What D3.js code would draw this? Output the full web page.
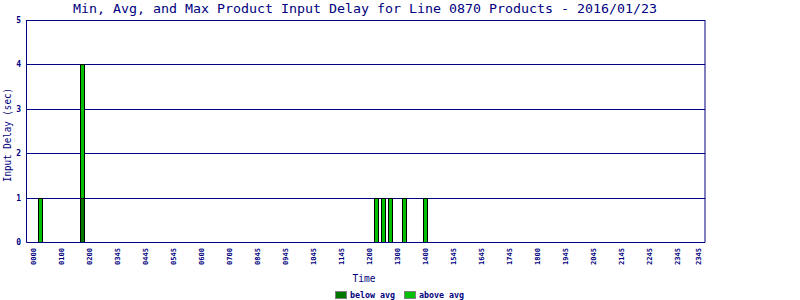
<!DOCTYPE html>
<html>
<head>
<meta charset="utf-8">
<title>Input Delay</title>
<script src="https://d3js.org/d3.v7.min.js"></script>
<style>
  body { margin: 0; background: #fff; }
  svg { display: block; }
  text { font-family: "DejaVu Sans Mono", monospace; fill: #000080; }
</style>
</head>
<body>
<svg width="800" height="300"></svg>
<script>
// bar data: quarter-hour slot, below-avg part, above-avg part
const barTimes  = ["0015", "0145", "1215", "1230", "1245", "1315", "1400"];
const belowAvg  = [0, 1, 0, 0, 0, 0, 0];
const aboveAvg  = [1, 3, 1, 1, 1, 1, 1];

// x tick labels as printed, and the slot each sits on
const tickLabels = ["0000","0100","0200","0345","0445","0545","0600","0700","0845","0945","1045","1145",
                    "1200","1300","1400","1545","1645","1745","1800","1945","2045","2145","2245","2345","2345"];
const tickSlots  = ["0000","0100","0200","0300","0400","0500","0600","0700","0800","0900","1000","1100",
                    "1200","1300","1400","1500","1600","1700","1800","1900","2000","2100","2200","2300","2345"];

const yTicks = [0, 1, 2, 3, 4, 5];
const keys = ["below avg", "above avg"];
const colors = ["#007800", "#00c000"];

// 96 quarter-hour slots across the day
const slots = [];
for (let h = 0; h < 24; h++) {
  for (let m = 0; m < 60; m += 15) {
    slots.push(String(h).padStart(2, "0") + String(m).padStart(2, "0"));
  }
}

const plotL = 26.5, plotR = 705, plotT = 20, plotB = 242;

const svg = d3.select("svg");

const x = d3.scaleBand()
  .domain(slots)
  .range([29.5, 701.5]);

const y = d3.scaleLinear()
  .domain([0, 5])
  .range([plotB, plotT]);

// gridlines
svg.append("g")
  .selectAll("line")
  .data(yTicks.slice(1))
  .enter().append("line")
    .attr("x1", plotL).attr("x2", plotR)
    .attr("y1", d => Math.round(y(d)) + 0.5)
    .attr("y2", d => Math.round(y(d)) + 0.5)
    .attr("stroke", "#000080");

// stacked bars
const data = barTimes.map((t, i) => ({ time: t, "below avg": belowAvg[i], "above avg": aboveAvg[i] }));
const stacked = d3.stack().keys(keys)(data);

svg.append("g")
  .selectAll("g")
  .data(stacked)
  .enter().append("g")
    .attr("fill", (d, i) => colors[i])
    .selectAll("rect")
    .data(d => d.filter(e => e[1] > e[0]))
    .enter().append("rect")
      .attr("x", d => Math.round(x(d.data.time) + x.bandwidth() / 2 - 2.5) + 0.5)
      .attr("y", d => Math.round(y(d[1])) + 0.5)
      .attr("width", 4)
      .attr("height", d => Math.round(y(d[0])) - Math.round(y(d[1])))
      .attr("stroke", "#000")
      .attr("stroke-width", 1);

// axes frame
svg.append("line")
  .attr("x1", plotL).attr("x2", plotL).attr("y1", plotT).attr("y2", plotB + 0.5)
  .attr("stroke", "#000080");
svg.append("line")
  .attr("x1", plotR).attr("x2", plotR).attr("y1", plotT).attr("y2", plotB + 0.5)
  .attr("stroke", "#000080");
svg.append("line")
  .attr("x1", plotL).attr("x2", plotR).attr("y1", plotB + 0.5).attr("y2", plotB + 0.5)
  .attr("stroke", "#000080");

// y tick labels
svg.append("g")
  .selectAll("text")
  .data(yTicks)
  .enter().append("text")
    .attr("x", 21)
    .attr("y", d => y(d) + 3)
    .attr("text-anchor", "end")
    .attr("font-size", 8)
    .attr("font-weight", "bold")
    .text(d => d);

// x tick labels (vertical)
svg.append("g")
  .selectAll("text")
  .data(tickLabels)
  .enter().append("text")
    .attr("transform", (d, i) => `translate(${x(tickSlots[i]) + x.bandwidth() / 2 + 2.5},248) rotate(-90)`)
    .attr("text-anchor", "end")
    .attr("font-size", 7)
    .attr("font-weight", "bold")
    .attr("textLength", 17)
    .attr("lengthAdjust", "spacingAndGlyphs")
    .text(d => d);

// title
svg.append("text")
  .attr("x", 365)
  .attr("y", 12.5)
  .attr("text-anchor", "middle")
  .attr("font-size", 13)
  .attr("textLength", 584)
  .attr("lengthAdjust", "spacingAndGlyphs")
  .text("Min, Avg, and Max Product Input Delay for Line 0870 Products - 2016/01/23");

// axis titles
svg.append("text")
  .attr("transform", "translate(11,135) rotate(-90)")
  .attr("text-anchor", "middle")
  .attr("font-size", 10)
  .attr("textLength", 94)
  .attr("lengthAdjust", "spacingAndGlyphs")
  .text("Input Delay (sec)");

svg.append("text")
  .attr("x", 364)
  .attr("y", 282)
  .attr("text-anchor", "middle")
  .attr("font-size", 10)
  .attr("textLength", 23)
  .attr("lengthAdjust", "spacingAndGlyphs")
  .text("Time");

// legend
const legendX = [335, 404];
const lg = svg.append("g")
  .selectAll("g")
  .data(keys)
  .enter().append("g");

lg.append("rect")
  .attr("x", (d, i) => legendX[i] + 0.5)
  .attr("y", 291.5)
  .attr("width", 11)
  .attr("height", 7)
  .attr("fill", (d, i) => colors[i])
  .attr("stroke", "#808080");

lg.append("text")
  .attr("x", (d, i) => legendX[i] + 15)
  .attr("y", 298)
  .attr("font-size", 8)
  .attr("font-weight", "bold")
  .attr("textLength", 45)
  .attr("lengthAdjust", "spacingAndGlyphs")
  .text(d => d);
</script>
</body>
</html>
